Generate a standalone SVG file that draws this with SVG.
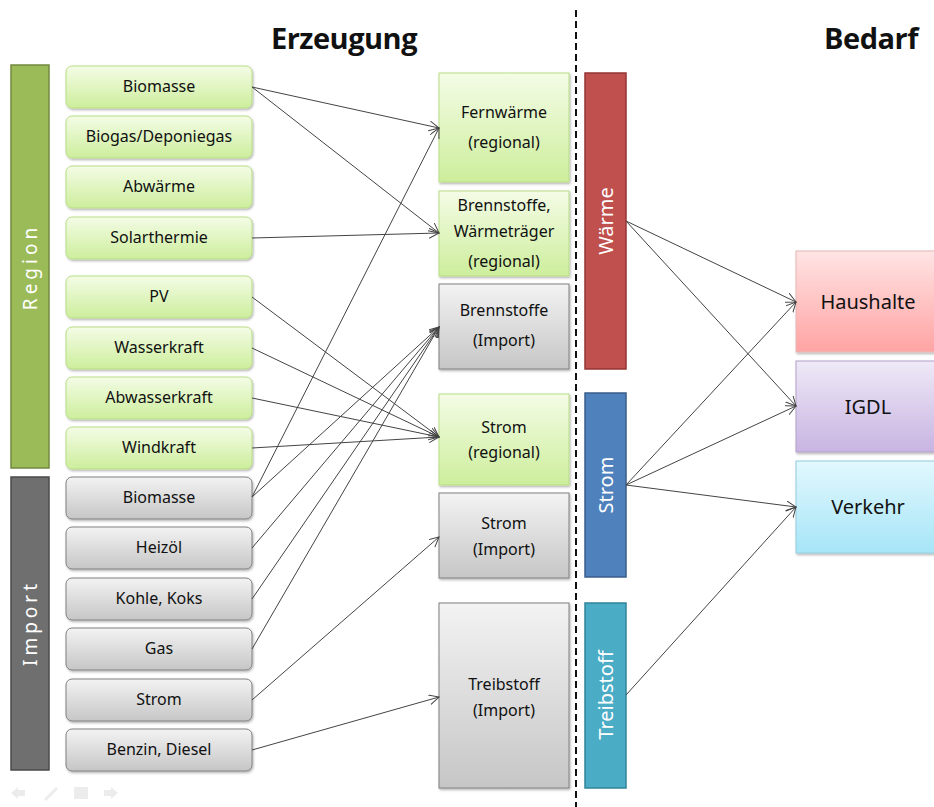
<svg xmlns="http://www.w3.org/2000/svg" width="934" height="807" viewBox="0 0 934 807">
<defs>
<linearGradient id="gGreen" x1="0" y1="0" x2="0" y2="1"><stop offset="0" stop-color="#F4FCE6"/><stop offset="1" stop-color="#CDEE9C"/></linearGradient>
<linearGradient id="gGray" x1="0" y1="0" x2="0" y2="1"><stop offset="0" stop-color="#F3F3F3"/><stop offset="1" stop-color="#C6C6C6"/></linearGradient>
<linearGradient id="gRed" x1="0" y1="0" x2="0" y2="1"><stop offset="0" stop-color="#FFE4E4"/><stop offset="1" stop-color="#FFA3A3"/></linearGradient>
<linearGradient id="gPurple" x1="0" y1="0" x2="0" y2="1"><stop offset="0" stop-color="#EFE9F7"/><stop offset="1" stop-color="#C8B4E2"/></linearGradient>
<linearGradient id="gCyan" x1="0" y1="0" x2="0" y2="1"><stop offset="0" stop-color="#E2F8FE"/><stop offset="1" stop-color="#A6E5F7"/></linearGradient>
<filter id="sh" x="-10%" y="-10%" width="130%" height="130%"><feDropShadow dx="1" dy="1.5" stdDeviation="1.2" flood-color="#000" flood-opacity="0.3"/></filter>
<marker id="arr" markerWidth="12" markerHeight="12" refX="10" refY="5" orient="auto" markerUnits="userSpaceOnUse"><path d="M0,0 L10,5 L0,10" fill="none" stroke="#444" stroke-width="1"/></marker>
</defs>
<style>
.t{font-family:"Noto Sans","Open Sans",sans-serif;fill:#111;text-anchor:middle}
.s{font-size:16px}
.m{font-size:16px}
.b{font-size:20px}
.w{font-family:"Noto Sans","Open Sans",sans-serif;fill:#fff;text-anchor:middle;font-size:20px}
.h{font-family:"Open Sans","Noto Sans",sans-serif;font-weight:bold;font-size:29px;fill:#111;text-anchor:middle;letter-spacing:-0.5px}
.gb{fill:url(#gGreen);stroke:#B8DD86;stroke-width:1;filter:url(#sh)}
.yb{fill:url(#gGray);stroke:#808080;stroke-width:1;filter:url(#sh)}
.c line{stroke:#444;stroke-width:1;marker-end:url(#arr)}
</style>
<rect width="934" height="807" fill="#fff"/>
<line x1="576" y1="10" x2="576" y2="807" stroke="#111" stroke-width="2" stroke-dasharray="7,4"/>
<text class="h" x="344" y="49">Erzeugung</text>
<text class="h" x="871" y="49">Bedarf</text>

<g id="region"><rect x="11" y="65" width="38" height="403" fill="#9BBB59" stroke="#71893F" stroke-width="1.5"/><text class="w" transform="translate(37,267) rotate(-90)" style="font-size:19px;letter-spacing:4px">Region</text></g>
<g id="import"><rect x="11" y="477" width="38" height="293" fill="#6F6F6F" stroke="#4A4A4A" stroke-width="1.5"/><text class="w" transform="translate(37,623) rotate(-90)" style="font-size:19px;letter-spacing:4px">Import</text></g>

<g id="l-biomasse"><rect class="gb" x="66" y="66" width="186" height="42" rx="6"/><text class="t s" x="159" y="92">Biomasse</text></g>
<g id="l-biogas"><rect class="gb" x="66" y="116" width="186" height="42" rx="6"/><text class="t s" x="159" y="142">Biogas/Deponiegas</text></g>
<g id="l-abwaerme"><rect class="gb" x="66" y="166" width="186" height="42" rx="6"/><text class="t s" x="159" y="192">Abwärme</text></g>
<g id="l-solar"><rect class="gb" x="66" y="217" width="186" height="42" rx="6"/><text class="t s" x="159" y="243">Solarthermie</text></g>
<g id="l-pv"><rect class="gb" x="66" y="276" width="186" height="42" rx="6"/><text class="t s" x="159" y="302">PV</text></g>
<g id="l-wasser"><rect class="gb" x="66" y="327" width="186" height="42" rx="6"/><text class="t s" x="159" y="353">Wasserkraft</text></g>
<g id="l-abwasser"><rect class="gb" x="66" y="377" width="186" height="42" rx="6"/><text class="t s" x="159" y="403">Abwasserkraft</text></g>
<g id="l-wind"><rect class="gb" x="66" y="427" width="186" height="42" rx="6"/><text class="t s" x="159" y="453">Windkraft</text></g>
<g id="i-biomasse"><rect class="yb" x="66" y="477" width="186" height="42" rx="6"/><text class="t s" x="159" y="503">Biomasse</text></g>
<g id="i-heizoel"><rect class="yb" x="66" y="527" width="186" height="42" rx="6"/><text class="t s" x="159" y="553">Heizöl</text></g>
<g id="i-kohle"><rect class="yb" x="66" y="578" width="186" height="42" rx="6"/><text class="t s" x="159" y="604">Kohle, Koks</text></g>
<g id="i-gas"><rect class="yb" x="66" y="628" width="186" height="42" rx="6"/><text class="t s" x="159" y="654">Gas</text></g>
<g id="i-strom"><rect class="yb" x="66" y="679" width="186" height="42" rx="6"/><text class="t s" x="159" y="705">Strom</text></g>
<g id="i-benzin"><rect class="yb" x="66" y="729" width="186" height="42" rx="6"/><text class="t s" x="159" y="755">Benzin, Diesel</text></g>

<g id="m-fernwaerme"><rect class="gb" x="439" y="73" width="130" height="109"/><text class="t m" x="504" y="118">Fernwärme</text><text class="t m" x="504" y="148">(regional)</text></g>
<g id="m-brennstoffe-reg"><rect class="gb" x="439" y="191" width="130" height="85"/><text class="t m" x="504" y="211">Brennstoffe,</text><text class="t m" x="504" y="237">Wärmeträger</text><text class="t m" x="504" y="267">(regional)</text></g>
<g id="m-brennstoffe-imp"><rect class="yb" x="439" y="284" width="130" height="85"/><text class="t m" x="504" y="316">Brennstoffe</text><text class="t m" x="504" y="346">(Import)</text></g>
<g id="m-strom-reg"><rect class="gb" x="439" y="394" width="130" height="91"/><text class="t m" x="504" y="433">Strom</text><text class="t m" x="504" y="458">(regional)</text></g>
<g id="m-strom-imp"><rect class="yb" x="439" y="493" width="130" height="85"/><text class="t m" x="504" y="529">Strom</text><text class="t m" x="504" y="555">(Import)</text></g>
<g id="m-treibstoff"><rect class="yb" x="439" y="603" width="130" height="185"/><text class="t m" x="504" y="690">Treibstoff</text><text class="t m" x="504" y="716">(Import)</text></g>

<g id="b-waerme"><rect x="585" y="73" width="41" height="296" fill="#C0504D" stroke="#943634" stroke-width="1.5"/><text class="w" transform="translate(613,221) rotate(-90)">Wärme</text></g>
<g id="b-strom"><rect x="585" y="393" width="41" height="184" fill="#4F81BD" stroke="#385D8A" stroke-width="1.5"/><text class="w" transform="translate(613,485) rotate(-90)">Strom</text></g>
<g id="b-treibstoff"><rect x="585" y="603" width="41" height="185" fill="#4BACC6" stroke="#31849B" stroke-width="1.5"/><text class="w" transform="translate(613,695) rotate(-90)">Treibstoff</text></g>

<g id="r-haushalte"><rect x="796" y="251" width="145" height="101" fill="url(#gRed)" stroke="#E6B9B8" stroke-width="1" filter="url(#sh)"/><text class="t b" x="868" y="309">Haushalte</text></g>
<g id="r-igdl"><rect x="796" y="361" width="145" height="91" fill="url(#gPurple)" stroke="#B3A2C7" stroke-width="1" filter="url(#sh)"/><text class="t b" x="868" y="414">IGDL</text></g>
<g id="r-verkehr"><rect x="796" y="461" width="145" height="92" fill="url(#gCyan)" stroke="#93CDDD" stroke-width="1" filter="url(#sh)"/><text class="t b" x="868" y="514">Verkehr</text></g>

<g id="connectors" class="c">
<line x1="252" y1="87" x2="439" y2="128"/>
<line x1="252" y1="87" x2="439" y2="233"/>
<line x1="252" y1="238" x2="439" y2="233"/>
<line x1="252" y1="297" x2="439" y2="437"/>
<line x1="252" y1="348" x2="439" y2="437"/>
<line x1="252" y1="398" x2="439" y2="437"/>
<line x1="252" y1="448" x2="439" y2="437"/>
<line x1="252" y1="497" x2="439" y2="128"/>
<line x1="252" y1="497" x2="439" y2="327"/>
<line x1="252" y1="548" x2="439" y2="327"/>
<line x1="252" y1="599" x2="439" y2="327"/>
<line x1="252" y1="649" x2="439" y2="327"/>
<line x1="252" y1="700" x2="439" y2="537"/>
<line x1="252" y1="750" x2="439" y2="697"/>
<line x1="626" y1="221" x2="796" y2="302"/>
<line x1="626" y1="221" x2="796" y2="406"/>
<line x1="626" y1="485" x2="796" y2="302"/>
<line x1="626" y1="485" x2="796" y2="406"/>
<line x1="626" y1="485" x2="796" y2="507"/>
<line x1="626" y1="695" x2="796" y2="507"/>
</g>

<g id="nav" fill="#ECECEC" stroke="none">
<path d="M11,793 L18,787 L18,790 L25,790 L25,796 L18,796 L18,799 Z"/>
<path d="M44,799 L56,787 L58,789 L46,801 Z"/>
<rect x="74" y="787" width="14" height="12"/>
<path d="M118,793 L111,787 L111,790 L104,790 L104,796 L111,796 L111,799 Z"/>
</g>
</svg>
